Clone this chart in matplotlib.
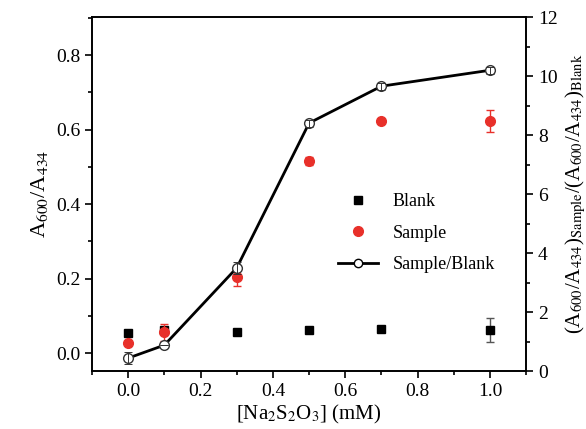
import matplotlib
matplotlib.use("Agg")
import matplotlib.pyplot as plt
from matplotlib.ticker import MultipleLocator
from matplotlib.lines import Line2D

plt.rcParams['font.family'] = ['Liberation Serif', 'DejaVu Serif']
plt.rcParams['mathtext.fontset'] = 'stix'

conc = [0.0, 0.1, 0.3, 0.5, 0.7, 1.0]
blank = [0.054, 0.062, 0.057, 0.062, 0.065, 0.062]
blank_err = [0.0, 0.0, 0.0, 0.0, 0.0, 0.032]
sample = [0.027, 0.056, 0.204, 0.516, 0.624, 0.624]
sample_err = [0.0, 0.022, 0.024, 0.01, 0.0, 0.03]
ratio = [0.44, 0.88, 3.5, 8.41, 9.66, 10.2]
ratio_err = [0.2, 0.0, 0.2, 0.12, 0.12, 0.12]

fig = plt.figure(figsize=(5.86, 4.29), dpi=100)
ax = fig.add_axes([0.157, 0.135, 0.741, 0.825])
ax2 = ax.twinx()

ax.errorbar(conc, blank, yerr=blank_err, fmt='s', color='black', ms=6,
            ecolor='#555555', elinewidth=1, capsize=3, zorder=3)
ax.errorbar(conc, sample, yerr=sample_err, fmt='o', color='#e8302a', ms=7,
            ecolor='#e8302a', elinewidth=1, capsize=3, zorder=4)
ax2.plot(conc, ratio, '-o', color='black', lw=2, mfc='white', mec='#333333',
         ms=7, zorder=5)
ax2.errorbar(conc, ratio, yerr=ratio_err, fmt='none', ecolor='#333333',
             elinewidth=0.7, capsize=3, capthick=0.7, zorder=6)

ax.set_xlim(-0.1, 1.1)
ax.set_ylim(-0.048, 0.902)
ax2.set_ylim(0, 12)

ax.xaxis.set_major_locator(MultipleLocator(0.2))
ax.xaxis.set_minor_locator(MultipleLocator(0.1))
ax.yaxis.set_major_locator(MultipleLocator(0.2))
ax.yaxis.set_minor_locator(MultipleLocator(0.1))
ax2.yaxis.set_major_locator(MultipleLocator(2))
ax2.yaxis.set_minor_locator(MultipleLocator(1))

for a in (ax, ax2):
    a.tick_params(which='major', direction='out', length=5, width=1.2, labelsize=14)
    a.tick_params(which='minor', direction='out', length=3, width=1.2)
    for s in a.spines.values():
        s.set_linewidth(1.2)
ax.tick_params(top=False, which='both')

ax.set_xlabel(r'[Na$_2$S$_2$O$_3$] (mM)', fontsize=15, labelpad=2)
ax.set_ylabel(r'A$_{600}$/A$_{434}$', fontsize=16)
ax2.set_ylabel(r'(A$_{600}$/A$_{434}$)$_{\mathrm{Sample}}$/(A$_{600}$/A$_{434}$)$_{\mathrm{Blank}}$',
               fontsize=15)

# legend built by hand so the markers match the reference
handles = [
    Line2D([], [], marker='s', ls='none', color='black', ms=6),
    Line2D([], [], marker='o', ls='none', color='#e8302a', ms=7),
    Line2D([], [], marker='o', ls='-', lw=2, color='black', mfc='white', ms=6),
]
ax2.legend(handles, ['Blank', 'Sample', 'Sample/Blank'], loc='center left',
           bbox_to_anchor=(0.53, 0.39), frameon=False, fontsize=13,
           handlelength=2.2, labelspacing=0.8)

fig.savefig('out.png', dpi=100)
